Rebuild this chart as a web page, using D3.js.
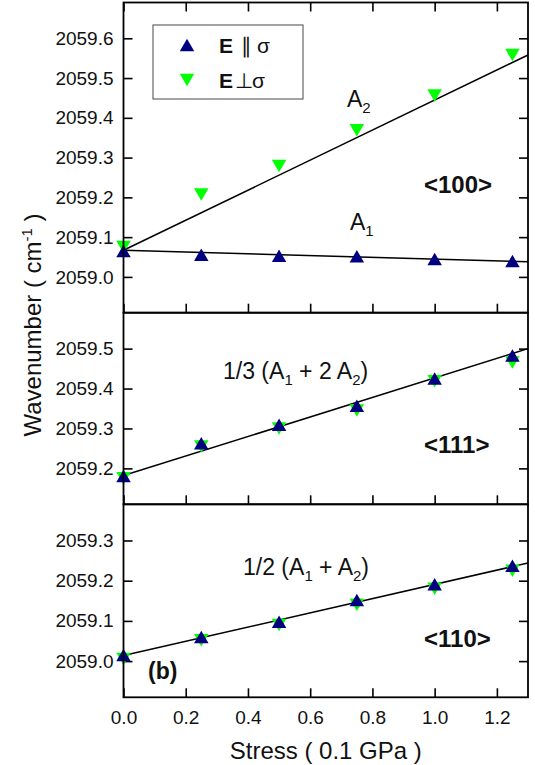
<!DOCTYPE html>
<html>
<head>
<meta charset="utf-8">
<script src="https://cdn.jsdelivr.net/npm/d3@7"></script>
<style>
body { margin: 0; background: #fff; }
text { font-family: "Liberation Sans", Arial, sans-serif; fill: #111; }
</style>
</head>
<body>
<div id="chart"></div>
<script>
// stress values (0.1 GPa)
var stress = [0, 0.25, 0.5, 0.75, 1.0, 1.25];

// <100>
var par100  = [2059.065, 2059.056, 2059.053, 2059.052, 2059.045, 2059.040];
var perp100 = [2059.075, 2059.207, 2059.279, 2059.369, 2059.456, 2059.558];
// <111>
var par111  = [2059.181, 2059.263, 2059.309, 2059.357, 2059.425, 2059.483];
var perp111 = [2059.175, 2059.255, 2059.300, 2059.345, 2059.418, 2059.465];
// <110>
var par110  = [2059.015, 2059.060, 2059.098, 2059.152, 2059.191, 2059.237];
var perp110 = [2059.005, 2059.052, 2059.090, 2059.140, 2059.180, 2059.225];

// linear fits, evaluated at the ends of the x range
var fitX = [0, 1.3];
var fitA2_100 = [2059.067, 2059.558];
var fitA1_100 = [2059.067, 2059.038];
var fit111 = [2059.182, 2059.500];
var fit110 = [2059.014, 2059.244];

var xTicks = [0, 0.2, 0.4, 0.6, 0.8, 1.0, 1.2];
var yTicks100 = [2059.0, 2059.1, 2059.2, 2059.3, 2059.4, 2059.5, 2059.6];
var yTicks111 = [2059.2, 2059.3, 2059.4, 2059.5];
var yTicks110 = [2059.0, 2059.1, 2059.2, 2059.3];

var yDom100 = [2058.91, 2059.69];
var yDom111 = [2059.11, 2059.59];
var yDom110 = [2058.91, 2059.39];

var parColor = "#000080";
var perpColor = "#00ff00";
var font = "'Liberation Sans', Arial, sans-serif";

var width = 535, height = 765;
var left = 123.5, right = 528;

var svg = d3.select("#chart").append("svg")
    .attr("width", width)
    .attr("height", height);

var xScale = d3.scaleLinear().domain([0, 1.3]).range([left, right]);
var fmt = d3.format(".1f");

// triangle with its bounding box centred on the point
function triangle(up){
    var w = 14.5, h = 12.5;
    if (up) return "M0," + (-h/2) + "L" + (w/2) + "," + (h/2) + "L" + (-w/2) + "," + (h/2) + "Z";
    return "M0," + (h/2) + "L" + (w/2) + "," + (-h/2) + "L" + (-w/2) + "," + (-h/2) + "Z";
}

function drawPanel(top, bottom, yDom, yTicks, par, perp, fits, showX, showTop){
    var yScale = d3.scaleLinear().domain(yDom).range([bottom, top]);
    var g = svg.append("g");

    // left axis, ticks inward
    var ya = g.append("g")
        .attr("transform", "translate(" + left + ",0)")
        .call(d3.axisLeft(yScale).tickValues(yTicks).tickFormat(fmt).tickSizeInner(-9).tickSizeOuter(0).tickPadding(10));
    ya.select(".domain").remove();
    ya.selectAll("line").attr("stroke", "#000").attr("stroke-width", 1.6);
    ya.selectAll("text").attr("font-size", 19).attr("font-family", font).attr("fill", "#111");

    var yr = g.append("g")
        .attr("transform", "translate(" + right + ",0)")
        .call(d3.axisRight(yScale).tickValues(yTicks).tickFormat("").tickSizeInner(-9).tickSizeOuter(0));
    yr.select(".domain").remove();
    yr.selectAll("line").attr("stroke", "#000").attr("stroke-width", 1.6);
    yr.selectAll("text").remove();

    var xb = g.append("g")
        .attr("transform", "translate(0," + bottom + ")")
        .call(d3.axisBottom(xScale).tickValues(xTicks).tickFormat(fmt).tickSizeInner(-9).tickSizeOuter(0).tickPadding(13));
    xb.select(".domain").remove();
    xb.selectAll("line").attr("stroke", "#000").attr("stroke-width", 1.6);
    if (showX){
        xb.selectAll("text").attr("font-size", 19).attr("font-family", font).attr("fill", "#111");
    } else {
        xb.selectAll("text").remove();
    }

    if (showTop){
        var xt = g.append("g")
            .attr("transform", "translate(0," + top + ")")
            .call(d3.axisTop(xScale).tickValues(xTicks).tickSizeInner(-9).tickSizeOuter(0));
        xt.select(".domain").remove();
        xt.selectAll("text").remove();
        xt.selectAll("line").attr("stroke", "#000").attr("stroke-width", 1.6);
    }

    var line = d3.line()
        .x(function(d){ return xScale(d[0]); })
        .y(function(d){ return yScale(d[1]); });

    fits.forEach(function(f){
        g.append("path")
            .datum(d3.zip(fitX, f))
            .attr("fill", "none")
            .attr("stroke", "#000")
            .attr("stroke-width", 1.5)
            .attr("d", line);
    });

    g.selectAll(".perp")
        .data(d3.zip(stress, perp))
        .enter().append("path")
        .attr("class", "perp")
        .attr("d", triangle(false))
        .attr("transform", function(d){ return "translate(" + xScale(d[0]) + "," + yScale(d[1]) + ")"; })
        .style("fill", perpColor);

    g.selectAll(".par")
        .data(d3.zip(stress, par))
        .enter().append("path")
        .attr("class", "par")
        .attr("d", triangle(true))
        .attr("transform", function(d){ return "translate(" + xScale(d[0]) + "," + yScale(d[1]) + ")"; })
        .style("fill", parColor);

    g.append("rect")
        .attr("x", left).attr("y", top)
        .attr("width", right - left).attr("height", bottom - top)
        .attr("fill", "none")
        .attr("stroke", "#000")
        .attr("stroke-width", 1.8);

    return g;
}

drawPanel(2.5, 312.7, yDom100, yTicks100, par100, perp100, [fitA2_100, fitA1_100], false, true);
drawPanel(312.7, 504.3, yDom111, yTicks111, par111, perp111, [fit111], false, false);
drawPanel(504.3, 697.3, yDom110, yTicks110, par110, perp110, [fit110], true, false);

// annotations; subscripts shift down 6px, the next part shifts back up
function subText(x, y, parts){
    var t = svg.append("text").attr("x", x).attr("y", y).attr("font-size", 23);
    var shift = 0;
    parts.forEach(function(p){
        if (p.sub){
            t.append("tspan").attr("font-size", 15).attr("dy", 6).text(p.sub);
            shift = -6;
        } else {
            t.append("tspan").attr("dy", shift).text(p.t);
            shift = 0;
        }
    });
    return t;
}
subText(347, 107, [{t: "A"}, {sub: "2"}]);
subText(350, 230, [{t: "A"}, {sub: "1"}]);
subText(223, 379, [{t: "1/3 (A"}, {sub: "1"}, {t: " + 2 A"}, {sub: "2"}, {t: ")"}]);
subText(243, 575, [{t: "1/2 (A"}, {sub: "1"}, {t: " + A"}, {sub: "2"}, {t: ")"}]);

[["<100>", 192.5], ["<111>", 452.5], ["<110>", 646.5]].forEach(function(d){
    svg.append("text").attr("x", 424).attr("y", d[1])
        .attr("font-size", 24).attr("font-weight", "bold").text(d[0]);
});
svg.append("text").attr("x", 148).attr("y", 679)
    .attr("font-size", 23).attr("font-weight", "bold").text("(b)");

// legend
svg.append("rect").attr("x", 153).attr("y", 25).attr("width", 150).attr("height", 74)
    .attr("fill", "#fff").attr("stroke", "#666").attr("stroke-width", 1.2);
svg.append("path").attr("d", triangle(true)).attr("transform", "translate(187,45)").style("fill", parColor);
svg.append("path").attr("d", triangle(false)).attr("transform", "translate(187,80)").style("fill", perpColor);
var l1 = svg.append("text").attr("y", 53).attr("font-size", 21);
l1.append("tspan").attr("x", 219).attr("font-weight", "bold").text("E");
l1.append("tspan").attr("x", 241).text("\u2225");
l1.append("tspan").attr("x", 257).text("\u03c3");
var l2 = svg.append("text").attr("y", 88).attr("font-size", 21);
l2.append("tspan").attr("x", 219).attr("font-weight", "bold").text("E");
l2.append("tspan").attr("x", 235).text("\u22a5");
l2.append("tspan").attr("x", 252).text("\u03c3");

// axis titles
svg.append("text")
    .attr("x", xScale(0.65)).attr("y", 759)
    .attr("text-anchor", "middle")
    .attr("font-size", 24)
    .text("Stress ( 0.1 GPa )");

var yt = svg.append("text")
    .attr("transform", "rotate(-90)")
    .attr("x", -325).attr("y", 41)
    .attr("text-anchor", "middle")
    .attr("font-size", 24);
yt.append("tspan").text("Wavenumber ( cm");
yt.append("tspan").attr("font-size", 15).attr("dy", -9).text("-1");
yt.append("tspan").attr("dy", 9).text(" )");
</script>
</body>
</html>
